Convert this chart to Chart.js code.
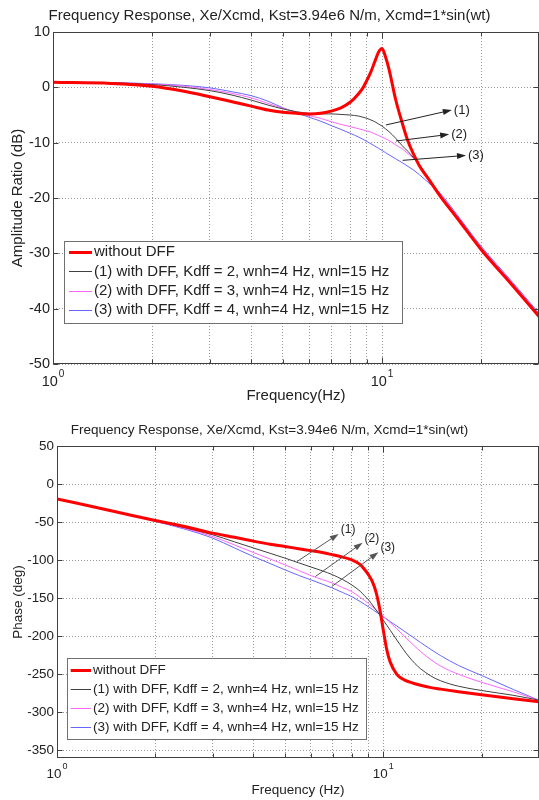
<!DOCTYPE html>
<html>
<head>
<meta charset="utf-8">
<script src="https://cdn.jsdelivr.net/npm/chart.js@4.4.1/dist/chart.umd.min.js"></script>
<style>
  html, body { margin: 0; padding: 0; background: #fff; overflow: hidden; }
  #wrap { position: relative; width: 539px; height: 800px; }
  #ampBox { position: absolute; left: 0; top: 0; width: 539px; height: 410px; }
  #phaseBox { position: absolute; left: 0; top: 400px; width: 539px; height: 400px; }
</style>
</head>
<body>
<div id="wrap">
  <div id="ampBox"><canvas id="ampChart" width="539" height="410"></canvas></div>
  <div id="phaseBox"><canvas id="phaseChart" width="539" height="400"></canvas></div>
</div>
<script>
// frequency points (Hz)
const freq = [1, 1.5, 2, 2.5, 3, 3.5, 4, 4.5, 5, 5.5, 6, 6.5, 7, 7.5, 8, 8.5, 8.75, 9, 9.25, 9.5,
              9.75, 10, 10.25, 10.5, 11, 11.5, 12, 12.5, 13, 14, 15, 17, 20, 25, 30];

// amplitude ratio (dB)
const ampNoDff = [0.9, 0.7, 0.2, -0.7, -1.7, -2.6, -3.4, -4.1, -4.5, -4.7, -4.8, -4.7, -4.3, -3.7, -2.7, -1.1, -0.1, 1.3, 2.8, 4.6,
                  6.3, 7.0, 5.5, 3.3, -2.2, -6.3, -9.8, -12.2, -14.2, -17.0, -19.6, -23.8, -29.3, -35.9, -41.4];
const ampKdff2 = [0.9, 0.8, 0.5, 0.0, -0.6, -1.4, -2.3, -3.2, -3.9, -4.4, -4.7, -4.8, -4.8, -4.9, -5.0, -5.2, -5.4, -5.6, -5.9, -6.2,
                  -6.6, -7.0, -7.5, -8.0, -9.2, -10.5, -11.6, -12.8, -14.0, -16.7, -19.4, -23.6, -29.1, -35.7, -41.2];
const ampKdff3 = [0.9, 0.8, 0.6, 0.2, -0.4, -1.1, -1.9, -2.9, -3.8, -4.5, -5.1, -5.6, -6.2, -6.7, -7.1, -7.5, -7.7, -7.9, -8.1, -8.4,
                  -8.7, -9.0, -9.3, -9.6, -10.4, -11.1, -12.0, -12.9, -14.0, -16.9, -19.2, -23.4, -28.9, -35.5, -41.0];
const ampKdff4 = [0.9, 0.85, 0.65, 0.35, -0.1, -0.8, -1.5, -2.5, -3.7, -4.6, -5.4, -6.1, -6.9, -7.6, -8.3, -9.0, -9.4, -9.8, -10.2, -10.6,
                  -11.0, -11.4, -11.8, -12.2, -12.9, -13.6, -14.3, -15.0, -15.8, -17.5, -19.1, -23.2, -28.7, -35.3, -40.8];

// phase (deg)
const phaseNoDff = [-19.5, -36, -48, -56.5, -64.5, -70, -75, -79, -82, -85, -87.5, -90, -93, -96, -99.6, -106, -112, -119, -128, -142,
                    -164, -192, -218, -234, -250, -256.5, -260, -262.5, -264.5, -267.5, -269.5, -273, -277, -282, -286];
const phaseKdff2 = [-19.5, -36, -48, -58, -66.7, -76, -84, -91, -97.4, -103.5, -109, -114, -119.3, -125.5, -132.5, -141, -146.5, -152, -158.7, -165.4,
                    -172.2, -178.9, -185.5, -192.1, -204.9, -216.9, -227.3, -235.8, -242.6, -252.3, -258.6, -265.7, -271.3, -277.6, -284];
const phaseKdff3 = [-19.5, -36, -48.5, -59, -68.9, -80, -90, -98.5, -106.2, -113.5, -120.3, -125.5, -130.3, -136, -141.3, -148.9, -152.9, -157, -161.2, -165.4,
                    -169.6, -173.8, -178, -182.1, -190.3, -198.3, -206.1, -213.4, -220, -230.9, -239.3, -250, -260.5, -273, -284];
const phaseKdff4 = [-19.5, -36, -49, -60, -71.1, -84, -95.3, -104.5, -112.8, -120, -125.9, -131.5, -136.8, -142.5, -147.9, -154.5, -157.8, -161.2, -164.6, -168,
                    -171.3, -174.5, -177.6, -180.7, -186.6, -192.3, -197.8, -203.1, -208.2, -217.5, -225.6, -238.4, -251.5, -269.9, -284.2];

// axes
const freqGrid = [1, 2, 3, 4, 5, 6, 7, 8, 9, 10, 20, 30];
const decadeTicks = [1, 10];
const ampTicks = [-50, -40, -30, -20, -10, 0, 10];
const phaseTicks = [-350, -300, -250, -200, -150, -100, -50, 0, 50];

// series
const seriesLabels = ['without DFF',
  '(1) with DFF, Kdff = 2, wnh=4 Hz, wnl=15 Hz',
  '(2) with DFF, Kdff = 3, wnh=4 Hz, wnl=15 Hz',
  '(3) with DFF, Kdff = 4, wnh=4 Hz, wnl=15 Hz'];
const seriesColors = ['#ff0000', '#404040', '#ff66ff', '#6666ff'];
const seriesWidths = [3, 1, 1, 1];

// callout arrows [freq, value]
const calloutText = ['(1)', '(2)', '(3)'];
const ampArrowFrom = [[10.28, -6.8], [11.03, -9.7], [11.55, -13.2]];
const ampArrowTo = [[16.3, -4.1], [16.0, -8.5], [18.0, -12.3]];
const phaseArrowFrom = [[5.44, -101.8], [6.19, -121.6], [6.95, -134.7]];
const phaseArrowTo = [[7.3, -65.5], [8.64, -77], [9.66, -89.5]];

const FONT = "'Liberation Sans', Arial, sans-serif";
const TEXT = '#222';

// frame, inward ticks, decade labels, callouts and legend in the MATLAB look
const matlabFrame = {
  id: 'matlabFrame',
  afterDraw(chart, args, o) {
    const { ctx, chartArea: a, scales: { x, y } } = chart;
    ctx.save();

    // callout arrows
    ctx.lineWidth = 1;
    o.arrowFrom.forEach((p, i) => {
      const x0 = x.getPixelForValue(p[0]), y0 = y.getPixelForValue(p[1]);
      const x1 = x.getPixelForValue(o.arrowTo[i][0]), y1 = y.getPixelForValue(o.arrowTo[i][1]);
      const ang = Math.atan2(y1 - y0, x1 - x0);
      const c = Math.cos(ang), s = Math.sin(ang);
      ctx.strokeStyle = o.arrowColor;
      ctx.fillStyle = o.arrowColor;
      ctx.beginPath();
      ctx.moveTo(x0, y0);
      ctx.lineTo(x1 - 6 * c, y1 - 6 * s);
      ctx.stroke();
      ctx.beginPath();
      ctx.moveTo(x1, y1);
      ctx.lineTo(x1 - 9 * c + 3 * s, y1 - 9 * s - 3 * c);
      ctx.lineTo(x1 - 9 * c - 3 * s, y1 - 9 * s + 3 * c);
      ctx.closePath();
      ctx.fill();
      ctx.fillStyle = TEXT;
      ctx.font = o.calloutSize + 'px ' + FONT;
      ctx.textAlign = 'left';
      ctx.textBaseline = 'middle';
      ctx.fillText(calloutText[i], x1 + o.calloutDx, y1 + o.calloutDy);
    });

    // legend box
    const L = o.legend;
    ctx.fillStyle = '#fff';
    ctx.fillRect(L.left, L.top, L.width, L.height);
    ctx.strokeStyle = '#707070';
    ctx.lineWidth = 1;
    ctx.strokeRect(L.left + 0.5, L.top + 0.5, L.width, L.height);
    ctx.font = o.fontSize + 'px ' + FONT;
    ctx.textAlign = 'left';
    ctx.textBaseline = 'middle';
    chart.data.datasets.forEach((ds, i) => {
      const yy = Math.round(L.firstRow + i * L.rowGap) + (ds.borderWidth % 2 ? 0.5 : 0);
      ctx.strokeStyle = ds.borderColor;
      ctx.lineWidth = ds.borderWidth;
      ctx.beginPath();
      ctx.moveTo(L.lineX0, yy);
      ctx.lineTo(L.lineX1, yy);
      ctx.stroke();
      ctx.fillStyle = TEXT;
      ctx.fillText(ds.label, L.textX, L.firstRow + i * L.rowGap);
    });

    // axes box and inward tick marks
    const l = Math.round(a.left) + 0.5, r = Math.round(a.right) - 0.5;
    const t = Math.round(a.top) + 0.5, b = Math.round(a.bottom) - 0.5;
    ctx.strokeStyle = '#404040';
    ctx.lineWidth = 1;
    ctx.strokeRect(l, t, r - l, b - t);
    ctx.beginPath();
    freqGrid.forEach(v => {
      const px = Math.round(x.getPixelForValue(v)) + 0.5;
      const len = decadeTicks.includes(v) ? 6 : 4;
      ctx.moveTo(px, b); ctx.lineTo(px, b - len);
      ctx.moveTo(px, t); ctx.lineTo(px, t + len);
    });
    y.ticks.forEach(tk => {
      const py = Math.round(y.getPixelForValue(tk.value)) + 0.5;
      ctx.moveTo(l, py); ctx.lineTo(l + 5, py);
      ctx.moveTo(r, py); ctx.lineTo(r - 5, py);
    });
    ctx.stroke();

    // decade labels 10^n
    ctx.fillStyle = TEXT;
    ctx.textBaseline = 'middle';
    decadeTicks.forEach(v => {
      const px = x.getPixelForValue(v);
      const exp = String(Math.round(Math.log10(v)));
      ctx.font = o.tickSize + 'px ' + FONT;
      const wBase = ctx.measureText('10').width;
      ctx.font = Math.round(o.tickSize * 0.68) + 'px ' + FONT;
      const wExp = ctx.measureText(exp).width;
      const x0 = px - (wBase + wExp + 1) / 2;
      ctx.textAlign = 'left';
      ctx.font = o.tickSize + 'px ' + FONT;
      ctx.fillText('10', x0, a.bottom + o.decadeDy);
      ctx.font = Math.round(o.tickSize * 0.68) + 'px ' + FONT;
      ctx.fillText(exp, x0 + wBase + 1, a.bottom + o.decadeDy - 7);
    });
    ctx.restore();
  }
};

function buildChart(id, cfg) {
  const datasets = cfg.series.map((vals, i) => ({
    label: seriesLabels[i],
    data: freq.map((f, k) => ({ x: f, y: vals[k] })),
    borderColor: seriesColors[i],
    backgroundColor: seriesColors[i],
    borderWidth: seriesWidths[i],
    pointRadius: 0,
    cubicInterpolationMode: 'monotone',
    fill: false
  }));
  return new Chart(document.getElementById(id), {
    type: 'line',
    data: { datasets },
    plugins: [matlabFrame],
    options: {
      responsive: false,
      animation: false,
      devicePixelRatio: 1,
      layout: { padding: 0 },
      plugins: {
        legend: { display: false },
        tooltip: { enabled: false },
        title: {
          display: true,
          text: cfg.title,
          color: TEXT,
          font: { family: FONT, size: cfg.fontSize, weight: 'normal', lineHeight: 1.2 },
          padding: cfg.titlePad
        },
        matlabFrame: cfg.frame
      },
      scales: {
        x: {
          type: 'logarithmic',
          min: 1,
          max: 30,
          afterBuildTicks: s => { s.ticks = freqGrid.map(v => ({ value: v })); },
          afterFit: s => { s.height = cfg.xAxisHeight; },
          ticks: { display: false },
          grid: { color: '#9a9a9a', lineWidth: 1, drawTicks: false },
          border: { display: false, dash: [1, 2] },
          title: {
            display: true,
            text: cfg.xTitle,
            color: TEXT,
            font: { family: FONT, size: cfg.fontSize, lineHeight: 1.2 },
            padding: { top: 0, bottom: cfg.xTitlePad }
          }
        },
        y: {
          min: cfg.yMin,
          max: cfg.yMax,
          afterBuildTicks: s => { s.ticks = cfg.yTicks.map(v => ({ value: v })); },
          afterFit: s => { s.width = cfg.yAxisWidth; },
          ticks: {
            color: TEXT,
            padding: 3,
            font: { family: FONT, size: cfg.tickSize }
          },
          grid: { color: '#9a9a9a', lineWidth: 1, drawTicks: false },
          border: { display: false, dash: [1, 2] },
          title: {
            display: true,
            text: cfg.yTitle,
            color: TEXT,
            font: { family: FONT, size: cfg.fontSize, lineHeight: 1.2 },
            padding: { top: cfg.yTitlePad, bottom: 0 }
          }
        }
      }
    }
  });
}

const chartTitle = 'Frequency Response, Xe/Xcmd, Kst=3.94e6 N/m, Xcmd=1*sin(wt)';

// amplitude ratio
buildChart('ampChart', {
  title: chartTitle,
  xTitle: 'Frequency(Hz)',
  yTitle: 'Amplitude Ratio (dB)',
  series: [ampNoDff, ampKdff2, ampKdff3, ampKdff4],
  yMin: -50, yMax: 10, yTicks: ampTicks,
  fontSize: 15, tickSize: 14.5,
  titlePad: { top: 6.9, bottom: 7.1 },
  xAxisHeight: 46, xTitlePad: 5,
  yAxisWidth: 53, yTitlePad: 9.2,
  frame: {
    fontSize: 15, tickSize: 14.5, decadeDy: 17.5,
    arrowFrom: ampArrowFrom, arrowTo: ampArrowTo, arrowColor: '#222',
    calloutSize: 13, calloutDx: 2, calloutDy: 0,
    legend: { left: 64, top: 241, width: 338, height: 82, firstRow: 252.3, rowGap: 19.1,
              lineX0: 69, lineX1: 92, textX: 94 }
  }
});

// phase
buildChart('phaseChart', {
  title: chartTitle,
  xTitle: 'Frequency (Hz)',
  yTitle: 'Phase (deg)',
  series: [phaseNoDff, phaseKdff2, phaseKdff3, phaseKdff4],
  yMin: -360, yMax: 50, yTicks: phaseTicks,
  fontSize: 13.5, tickSize: 13.4,
  titlePad: { top: 21.9, bottom: 7.9 },
  xAxisHeight: 42, xTitlePad: 1.9,
  yAxisWidth: 57, yTitlePad: 9.9,
  frame: {
    fontSize: 13.5, tickSize: 13.4, decadeDy: 16,
    arrowFrom: phaseArrowFrom, arrowTo: phaseArrowTo, arrowColor: '#555',
    calloutSize: 12, calloutDx: 2, calloutDy: -4,
    legend: { left: 67, top: 258, width: 299, height: 81, firstRow: 270, rowGap: 19,
              lineX0: 70.7, lineX1: 91, textX: 93 }
  }
});
</script>
</body>
</html>
